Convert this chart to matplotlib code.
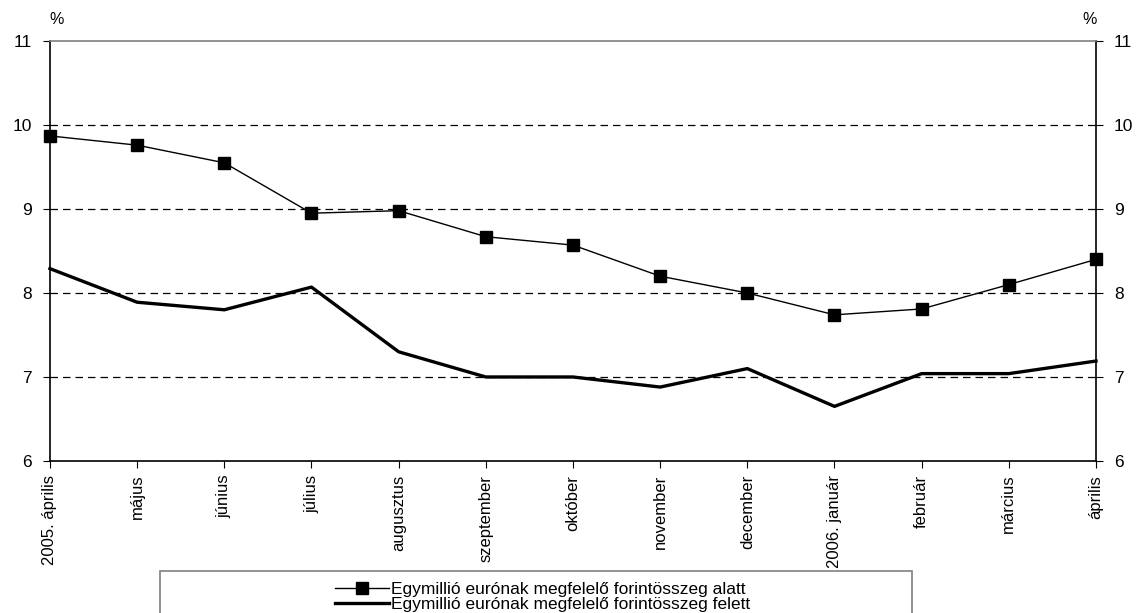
import matplotlib
matplotlib.use("Agg")
import matplotlib.pyplot as plt
from matplotlib.patches import Rectangle

plt.rcParams['font.family'] = ['Liberation Sans', 'DejaVu Sans']

months = ["2005. április", "május", "június", "július", "augusztus",
          "szeptember", "október", "november", "december", "2006. január",
          "február", "március", "április"]

# kamatláb, %
below_1m = [9.87, 9.76, 9.55, 8.95, 8.98, 8.67, 8.57, 8.20, 8.00, 7.74,
            7.81, 8.10, 8.40]
above_1m = [8.29, 7.89, 7.80, 8.07, 7.30, 7.00, 7.00, 6.88, 7.10, 6.65,
            7.04, 7.04, 7.19]

label_below = "Egymillió eurónak megfelelő forintösszeg alatt"
label_above = "Egymillió eurónak megfelelő forintösszeg felett"

fig = plt.figure(figsize=(11.38, 6.13), dpi=100)
ax = fig.add_axes([0.0439, 0.2480, 0.9192, 0.6851])

x = list(range(len(months)))
ax.plot(x, below_1m, color="black", lw=1.0, marker="s", markersize=8,
        label=label_below, clip_on=False, zorder=3)
ax.plot(x, above_1m, color="black", lw=2.4, label=label_above,
        clip_on=False, zorder=3)

ax.set_xlim(0, len(months) - 1)
ax.set_ylim(6, 11)
ax.set_yticks([6, 7, 8, 9, 10, 11])
for yv in [7, 8, 9, 10]:
    ax.axhline(yv, color="black", lw=0.9, dashes=(6, 4), zorder=0)

ax.set_xticks(x)
ax.set_xticklabels(months, rotation=90, fontsize=12)
ax.tick_params(axis="x", direction="out", length=5, pad=5)
ax.tick_params(axis="y", direction="out", length=5, pad=8, labelsize=12.5,
               right=True, labelright=True)

for side in ["left", "right", "bottom"]:
    ax.spines[side].set_color("black")
    ax.spines[side].set_linewidth(1.2)
ax.spines["top"].set_color("#808080")
ax.spines["top"].set_linewidth(1.2)

fig.text(57 / 1138, 1 - 20 / 613, "%", fontsize=11.5, ha="center", va="center")
fig.text(1090 / 1138, 1 - 20 / 613, "%", fontsize=11.5, ha="center", va="center")

# keretes jelmagyarázat az ábra alján
fig.patches.append(Rectangle((160 / 1138, -0.05), (912 - 160) / 1138,
                             1 - 571 / 613 + 0.05, transform=fig.transFigure,
                             fill=False, edgecolor="#808080", lw=1.2))
fig.legend(loc="upper left", bbox_to_anchor=(326 / 1138, 1 - 573 / 613),
           frameon=False, fontsize=12.5, handlelength=3.1, handletextpad=0.15,
           labelspacing=0.0, borderpad=0.0)

fig.savefig("out.png", dpi=100)
